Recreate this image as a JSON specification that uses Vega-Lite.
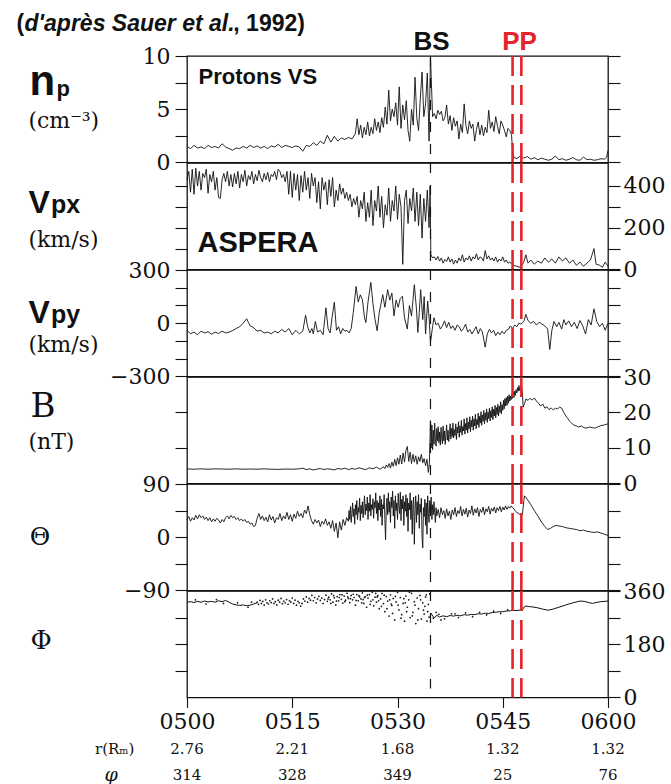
{
"$schema": "https://vega.github.io/schema/vega-lite/v6.json",
"background": "white",
"padding": {"left": 15, "top": 12, "right": 0, "bottom": 0},
"autosize": {"type": "pad"},
"spacing": 0,
"bounds": "flush",
"config": {
  "view": {"stroke": "#111", "strokeWidth": 1.3},
  "axis": {"domain": false, "grid": false, "tickColor": "#111", "tickWidth": 1.1, "tickSize": 12, "labelFont": "DejaVu Serif", "labelFontSize": 22, "labelColor": "#111", "labelPadding": 5},
  "font": "Liberation Sans"
},
"datasets": {
"np": [{"t":0,"v":1.5},{"t":0.5,"v":1.3},{"t":1,"v":1.6},{"t":1.5,"v":1.35},{"t":2,"v":1.45},{"t":2.5,"v":1.3},{"t":3,"v":1.6},{"t":3.5,"v":1.4},{"t":4,"v":1.5},{"t":4.5,"v":1.35},{"t":5,"v":1.75},{"t":5.5,"v":1.45},{"t":6,"v":1.3},{"t":6.5,"v":1.15},{"t":7,"v":1.35},{"t":7.5,"v":1.3},{"t":8,"v":1.5},{"t":8.5,"v":1.35},{"t":9,"v":1.6},{"t":9.5,"v":1.4},{"t":10,"v":1.55},{"t":10.5,"v":1.35},{"t":11,"v":1.5},{"t":11.5,"v":1.3},{"t":12,"v":1.55},{"t":12.5,"v":1.45},{"t":13,"v":1.7},{"t":13.5,"v":1.4},{"t":14,"v":1.6},{"t":14.5,"v":1.5},{"t":15,"v":1.4},{"t":15.5,"v":1.55},{"t":16,"v":1.45},{"t":16.5,"v":1.05},{"t":17,"v":1.6},{"t":17.5,"v":1.5},{"t":18,"v":1.85},{"t":18.5,"v":1.6},{"t":19,"v":2.0},{"t":19.5,"v":1.75},{"t":20,"v":2.55},{"t":20.5,"v":1.9},{"t":21,"v":2.45},{"t":21.5,"v":2.0},{"t":22,"v":2.3},{"t":22.5,"v":2.15},{"t":23,"v":2.35},{"t":23.5,"v":2.2},
{"t":24,"v":2.7},{"t":24.25,"v":4.1},{"t":24.5,"v":2.6},{"t":24.75,"v":3.5},{"t":25,"v":2.3},{"t":25.25,"v":3.3},{"t":25.5,"v":2.6},{"t":25.75,"v":3.8},{"t":26,"v":2.5},{"t":26.25,"v":3.3},{"t":26.5,"v":2.7},{"t":26.75,"v":4.1},{"t":27,"v":3.0},{"t":27.25,"v":3.8},{"t":27.5,"v":2.8},{"t":27.75,"v":4.2},{"t":28,"v":3.3},{"t":28.25,"v":5.2},{"t":28.5,"v":3.6},{"t":28.75,"v":6.8},{"t":29,"v":3.9},{"t":29.25,"v":5.0},{"t":29.5,"v":4.3},{"t":29.75,"v":5.6},{"t":30,"v":3.5},{"t":30.25,"v":7.1},{"t":30.5,"v":3.2},{"t":30.75,"v":5.4},{"t":31,"v":4.0},{"t":31.25,"v":5.8},{"t":31.5,"v":3.0},{"t":31.75,"v":2.0},{"t":32,"v":5.0},{"t":32.25,"v":3.5},{"t":32.5,"v":8.0},{"t":32.75,"v":4.2},{"t":33,"v":3.0},{"t":33.25,"v":6.0},{"t":33.5,"v":8.5},{"t":33.75,"v":4.3},{"t":34,"v":5.5},{"t":34.25,"v":8.4},{"t":34.5,"v":2.0},{"t":34.7,"v":10.0},{"t":35,"v":4.3},{"t":35.25,"v":4.6},{"t":35.5,"v":4.1},{"t":35.75,"v":4.9},{"t":36,"v":4.5},{"t":36.25,"v":4.8},{"t":36.5,"v":3.9},{"t":36.75,"v":4.2},{"t":37,"v":5.4},{"t":37.25,"v":3.6},{"t":37.5,"v":4.4},{"t":37.75,"v":3.0},{"t":38,"v":4.2},{"t":38.25,"v":3.4},{"t":38.5,"v":3.9},{"t":38.75,"v":2.2},{"t":39,"v":3.6},{"t":39.25,"v":2.8},{"t":39.5,"v":5.5},{"t":39.75,"v":3.5},{"t":40,"v":2.7},{"t":40.25,"v":3.9},{"t":40.5,"v":3.2},{"t":40.75,"v":3.6},{"t":41,"v":2.0},{"t":41.25,"v":3.1},{"t":41.5,"v":3.8},{"t":41.75,"v":2.6},{"t":42,"v":3.5},{"t":42.25,"v":2.5},{"t":42.5,"v":3.3},{"t":42.75,"v":2.8},{"t":43,"v":4.9},{"t":43.25,"v":3.2},{"t":43.5,"v":3.8},{"t":43.75,"v":2.9},{"t":44,"v":4.3},{"t":44.25,"v":3.4},{"t":44.5,"v":2.7},{"t":44.75,"v":3.9},{"t":45,"v":3.5},{"t":45.25,"v":3.0},{"t":45.5,"v":2.4},{"t":45.75,"v":3.2},{"t":46,"v":3.0},{"t":46.25,"v":2.6},{"t":46.4,"v":1.1},{"t":46.6,"v":0.47},{"t":47,"v":0.35},{"t":47.5,"v":0.6},{"t":48,"v":0.4},{"t":48.5,"v":0.55},{"t":49,"v":0.3},{"t":49.5,"v":0.45},{"t":50,"v":0.25},{"t":50.5,"v":0.4},{"t":51,"v":0.3},{"t":51.5,"v":0.2},{"t":52,"v":0.3},{"t":52.5,"v":0.6},{"t":53,"v":0.25},{"t":53.5,"v":0.35},{"t":54,"v":0.2},{"t":54.5,"v":0.3},{"t":55,"v":0.45},{"t":55.5,"v":0.25},{"t":56,"v":0.2},{"t":56.5,"v":0.5},{"t":57,"v":0.25},{"t":57.5,"v":0.3},{"t":58,"v":0.2},{"t":58.5,"v":0.25},{"t":59,"v":0.35},{"t":59.5,"v":0.3},{"t":59.8,"v":0.5},{"t":60,"v":1.1}],
"vpx": [{"t":0,"v":430},{"t":0.25,"v":470},{"t":0.5,"v":370},{"t":0.75,"v":480},{"t":1,"v":360},{"t":1.25,"v":485},{"t":1.5,"v":400},{"t":1.75,"v":470},{"t":2,"v":380},{"t":2.25,"v":460},{"t":2.5,"v":440},{"t":2.75,"v":480},{"t":3,"v":365},{"t":3.25,"v":455},{"t":3.5,"v":420},{"t":3.75,"v":470},{"t":4,"v":380},{"t":4.25,"v":440},{"t":4.5,"v":345},{"t":4.75,"v":340},{"t":5,"v":430},{"t":5.25,"v":460},{"t":5.5,"v":420},{"t":5.75,"v":470},{"t":6,"v":400},{"t":6.25,"v":455},{"t":6.5,"v":395},{"t":6.75,"v":460},{"t":7,"v":410},{"t":7.25,"v":470},{"t":7.5,"v":390},{"t":7.75,"v":455},{"t":8,"v":420},{"t":8.25,"v":475},{"t":8.5,"v":400},{"t":8.75,"v":450},{"t":9,"v":430},{"t":9.25,"v":470},{"t":9.5,"v":410},{"t":9.75,"v":455},{"t":10,"v":425},{"t":10.25,"v":475},{"t":10.5,"v":440},{"t":10.75,"v":420},{"t":11,"v":460},{"t":11.25,"v":430},{"t":11.5,"v":465},{"t":11.75,"v":420},{"t":12,"v":455},{"t":12.25,"v":445},{"t":12.5,"v":470},{"t":12.75,"v":430},{"t":13,"v":480},{"t":13.25,"v":470},{"t":13.5,"v":440},{"t":13.75,"v":455},{"t":14,"v":420},{"t":14.25,"v":470},{"t":14.5,"v":360},{"t":14.75,"v":470},{"t":15,"v":345},{"t":15.25,"v":460},{"t":15.5,"v":380},{"t":15.75,"v":455},{"t":16,"v":330},{"t":16.25,"v":450},{"t":16.5,"v":370},{"t":16.75,"v":470},{"t":17,"v":380},{"t":17.25,"v":440},{"t":17.5,"v":340},{"t":17.75,"v":460},{"t":18,"v":400},{"t":18.25,"v":440},{"t":18.5,"v":320},{"t":18.75,"v":420},{"t":19,"v":290},{"t":19.25,"v":440},{"t":19.5,"v":380},{"t":19.75,"v":420},{"t":20,"v":310},{"t":20.25,"v":430},{"t":20.5,"v":350},{"t":20.75,"v":440},{"t":21,"v":300},{"t":21.25,"v":380},{"t":21.5,"v":330},{"t":21.75,"v":410},{"t":22,"v":360},{"t":22.25,"v":390},{"t":22.5,"v":340},{"t":22.75,"v":370},{"t":23,"v":330},{"t":23.25,"v":360},{"t":23.5,"v":300},{"t":23.75,"v":340},{"t":24,"v":310},{"t":24.25,"v":350},{"t":24.5,"v":250},{"t":24.75,"v":330},{"t":25,"v":290},{"t":25.25,"v":370},{"t":25.5,"v":230},{"t":25.75,"v":320},{"t":26,"v":250},{"t":26.25,"v":380},{"t":26.5,"v":210},{"t":26.75,"v":330},{"t":27,"v":280},{"t":27.25,"v":400},{"t":27.5,"v":250},{"t":27.75,"v":350},{"t":28,"v":200},{"t":28.25,"v":310},{"t":28.5,"v":260},{"t":28.75,"v":390},{"t":29,"v":230},{"t":29.25,"v":330},{"t":29.5,"v":280},{"t":29.75,"v":400},{"t":30,"v":240},{"t":30.25,"v":360},{"t":30.5,"v":300},{"t":30.75,"v":24},{"t":31,"v":330},{"t":31.25,"v":380},{"t":31.5,"v":220},{"t":31.75,"v":340},{"t":32,"v":280},{"t":32.25,"v":390},{"t":32.5,"v":230},{"t":32.75,"v":370},{"t":33,"v":210},{"t":33.25,"v":360},{"t":33.5,"v":150},{"t":33.75,"v":340},{"t":34,"v":230},{"t":34.25,"v":380},{"t":34.5,"v":200},{"t":34.65,"v":400},{"t":34.75,"v":70},{"t":35,"v":55},{"t":35.25,"v":60},{"t":35.5,"v":45},{"t":35.75,"v":62},{"t":36,"v":40},{"t":36.25,"v":55},{"t":36.5,"v":30},{"t":36.75,"v":48},{"t":37,"v":38},{"t":37.25,"v":60},{"t":37.5,"v":35},{"t":37.75,"v":50},{"t":38,"v":25},{"t":38.25,"v":45},{"t":38.5,"v":30},{"t":38.75,"v":55},{"t":39,"v":40},{"t":39.25,"v":70},{"t":39.5,"v":35},{"t":39.75,"v":55},{"t":40,"v":45},{"t":40.25,"v":65},{"t":40.5,"v":40},{"t":40.75,"v":60},{"t":41,"v":50},{"t":41.25,"v":75},{"t":41.5,"v":45},{"t":41.75,"v":60},{"t":42,"v":55},{"t":42.25,"v":40},{"t":42.5,"v":90},{"t":42.75,"v":50},{"t":43,"v":65},{"t":43.25,"v":45},{"t":43.5,"v":55},{"t":43.75,"v":40},{"t":44,"v":60},{"t":44.25,"v":35},{"t":44.5,"v":50},{"t":44.75,"v":40},{"t":45,"v":60},{"t":45.25,"v":35},{"t":45.5,"v":45},{"t":45.75,"v":30},{"t":46,"v":35},{"t":46.5,"v":20},{"t":47,"v":15},{"t":47.5,"v":10},{"t":48,"v":35},{"t":48.3,"v":70},{"t":48.6,"v":30},{"t":49,"v":45},{"t":49.5,"v":25},{"t":50,"v":40},{"t":50.5,"v":30},{"t":51,"v":55},{"t":51.5,"v":35},{"t":52,"v":50},{"t":52.5,"v":30},{"t":53,"v":60},{"t":53.5,"v":40},{"t":54,"v":55},{"t":54.5,"v":30},{"t":55,"v":45},{"t":55.5,"v":20},{"t":56,"v":35},{"t":56.5,"v":15},{"t":57,"v":30},{"t":57.5,"v":45},{"t":58,"v":100},{"t":58.3,"v":25},{"t":58.8,"v":20},{"t":59.2,"v":10},{"t":59.6,"v":35},{"t":60,"v":15}],
"vpy": [{"t":0,"v":-40},{"t":0.5,"v":-60},{"t":1,"v":-50},{"t":1.5,"v":-65},{"t":2,"v":-45},{"t":2.5,"v":-55},{"t":3,"v":-48},{"t":3.5,"v":-62},{"t":4,"v":-50},{"t":4.5,"v":-58},{"t":5,"v":-45},{"t":5.5,"v":-55},{"t":6,"v":-50},{"t":6.5,"v":-42},{"t":7,"v":-30},{"t":7.5,"v":-20},{"t":8,"v":0},{"t":8.5,"v":25},{"t":8.75,"v":5},{"t":9,"v":-15},{"t":9.5,"v":-25},{"t":10,"v":-45},{"t":10.5,"v":-40},{"t":11,"v":-55},{"t":11.5,"v":-50},{"t":12,"v":-60},{"t":12.5,"v":-45},{"t":13,"v":-55},{"t":13.5,"v":-35},{"t":14,"v":-50},{"t":14.5,"v":-30},{"t":15,"v":-65},{"t":15.5,"v":-40},{"t":16,"v":-60},{"t":16.5,"v":-45},{"t":16.9,"v":45},{"t":17.2,"v":-20},{"t":17.5,"v":-55},{"t":17.8,"v":-30},{"t":18,"v":-60},{"t":18.3,"v":10},{"t":18.6,"v":-50},{"t":19,"v":-40},{"t":19.4,"v":-65},{"t":19.8,"v":87},{"t":20.1,"v":-30},{"t":20.4,"v":-55},{"t":20.7,"v":40},{"t":21,"v":118},{"t":21.3,"v":-40},{"t":21.6,"v":-20},{"t":21.9,"v":-60},{"t":22.2,"v":-30},{"t":22.5,"v":-45},{"t":22.8,"v":-40},{"t":23.1,"v":-55},{"t":23.4,"v":-30},{"t":23.7,"v":60},{"t":24.1,"v":207},{"t":24.4,"v":120},{"t":24.7,"v":160},{"t":25,"v":133},{"t":25.3,"v":30},{"t":25.5,"v":4},{"t":25.8,"v":120},{"t":26.2,"v":230},{"t":26.5,"v":110},{"t":26.8,"v":20},{"t":27.1,"v":-43},{"t":27.4,"v":60},{"t":27.6,"v":100},{"t":27.9,"v":161},{"t":28.2,"v":90},{"t":28.6,"v":189},{"t":28.9,"v":130},{"t":29.2,"v":170},{"t":29.5,"v":41},{"t":29.8,"v":130},{"t":30.1,"v":90},{"t":30.4,"v":140},{"t":30.7,"v":152},{"t":31,"v":30},{"t":31.4,"v":-33},{"t":31.7,"v":100},{"t":32,"v":40},{"t":32.4,"v":217},{"t":32.7,"v":80},{"t":32.9,"v":-52},{"t":33.1,"v":60},{"t":33.3,"v":189},{"t":33.6,"v":20},{"t":33.8,"v":150},{"t":34,"v":-61},{"t":34.3,"v":124},{"t":34.5,"v":30},{"t":34.7,"v":-107},{"t":35,"v":-20},{"t":35.2,"v":31},{"t":35.5,"v":-10},{"t":35.8,"v":0},{"t":36.1,"v":-33},{"t":36.4,"v":-15},{"t":36.7,"v":13},{"t":37,"v":-25},{"t":37.3,"v":5},{"t":37.6,"v":-30},{"t":37.9,"v":-15},{"t":38.2,"v":-40},{"t":38.5,"v":-10},{"t":38.8,"v":-20},{"t":39.1,"v":-45},{"t":39.4,"v":-30},{"t":39.7,"v":-5},{"t":40,"v":-50},{"t":40.3,"v":-35},{"t":40.6,"v":-61},{"t":40.9,"v":-40},{"t":41.2,"v":-20},{"t":41.5,"v":-60},{"t":41.8,"v":-30},{"t":42.1,"v":-50},{"t":42.5,"v":-135},{"t":42.8,"v":-60},{"t":43.1,"v":-35},{"t":43.4,"v":-55},{"t":43.7,"v":-40},{"t":44,"v":-70},{"t":44.3,"v":-50},{"t":44.6,"v":-65},{"t":44.9,"v":-45},{"t":45.2,"v":-60},{"t":45.5,"v":-40},{"t":45.8,"v":-35},{"t":46.1,"v":-15},{"t":46.4,"v":-30},{"t":46.7,"v":-10},{"t":47,"v":-20},{"t":47.3,"v":0},{"t":47.6,"v":-5},{"t":48,"v":10},{"t":48.3,"v":50},{"t":48.6,"v":15},{"t":49,"v":0},{"t":49.4,"v":10},{"t":49.8,"v":-10},{"t":50.2,"v":5},{"t":50.6,"v":-5},{"t":51,"v":-15},{"t":51.4,"v":-33},{"t":51.7,"v":-148},{"t":52,"v":-40},{"t":52.3,"v":10},{"t":52.7,"v":-20},{"t":53,"v":5},{"t":53.4,"v":-33},{"t":53.7,"v":20},{"t":54,"v":-10},{"t":54.4,"v":13},{"t":54.8,"v":-20},{"t":55.2,"v":5},{"t":55.6,"v":-30},{"t":56,"v":15},{"t":56.4,"v":-15},{"t":56.8,"v":-61},{"t":57.2,"v":20},{"t":57.6,"v":-10},{"t":58,"v":81},{"t":58.4,"v":10},{"t":58.8,"v":-20},{"t":59.2,"v":0},{"t":59.6,"v":-40},{"t":60,"v":0}],
"B": [{"t":0,"v":4.1},{"t":1,"v":4.0},{"t":2,"v":4.1},{"t":3,"v":4.0},{"t":4,"v":4.1},{"t":5,"v":4.05},{"t":6,"v":4.0},{"t":7,"v":4.1},{"t":8,"v":4.0},{"t":9,"v":4.05},{"t":10,"v":4.0},{"t":11,"v":4.1},{"t":12,"v":4.0},{"t":13,"v":3.95},{"t":14,"v":4.05},{"t":15,"v":4.0},{"t":16,"v":4.1},{"t":16.5,"v":4.3},{"t":17,"v":3.9},{"t":17.5,"v":4.1},{"t":18,"v":3.8},{"t":18.5,"v":4.0},{"t":19,"v":4.2},{"t":19.5,"v":3.9},{"t":20,"v":4.1},{"t":20.5,"v":4.0},{"t":21,"v":3.8},{"t":21.5,"v":4.2},{"t":22,"v":4.0},{"t":22.5,"v":4.3},{"t":23,"v":3.9},{"t":23.5,"v":4.2},{"t":24,"v":4.0},{"t":24.5,"v":4.4},{"t":25,"v":4.1},{"t":25.5,"v":3.9},{"t":26,"v":4.4},{"t":26.5,"v":4.1},{"t":27,"v":4.6},{"t":27.5,"v":4.0},{"t":28,"v":4.7},{"t":28.2,"v":4.2},{"t":28.4,"v":5.2},{"t":28.6,"v":4.5},{"t":28.8,"v":5.6},{"t":29,"v":4.3},{"t":29.2,"v":6.0},{"t":29.4,"v":4.8},{"t":29.6,"v":6.8},{"t":29.8,"v":5.0},{"t":30,"v":7.2},{"t":30.2,"v":5.4},{"t":30.4,"v":8.0},{"t":30.6,"v":5.5},{"t":30.8,"v":8.6},{"t":31,"v":6.0},{"t":31.2,"v":9.3},{"t":31.4,"v":10.4},{"t":31.6,"v":6.2},{"t":31.8,"v":8.8},{"t":32,"v":5.6},{"t":32.2,"v":8.2},{"t":32.4,"v":6.0},{"t":32.6,"v":7.8},{"t":32.8,"v":5.4},{"t":33,"v":7.5},{"t":33.2,"v":6.2},{"t":33.4,"v":8.2},{"t":33.6,"v":5.8},{"t":33.8,"v":7.0},{"t":34,"v":5.0},{"t":34.2,"v":6.8},{"t":34.4,"v":3.1},{"t":34.55,"v":6.0},{"t":34.7,"v":17.7},{"t":34.8,"v":10.0},{"t":34.9,"v":16.5},{"t":35,"v":9.5},{"t":35.1,"v":15.0},{"t":35.2,"v":11.0},{"t":35.3,"v":17.0},{"t":35.4,"v":12.5},{"t":35.5,"v":10.5},{"t":35.6,"v":15.5},{"t":35.7,"v":12.0},{"t":35.8,"v":16.0},{"t":35.9,"v":11.5},{"t":36,"v":14.5},{"t":36.1,"v":10.8},{"t":36.2,"v":15.8},{"t":36.3,"v":12.8},{"t":36.4,"v":11.2},{"t":36.5,"v":16.2},{"t":36.6,"v":12.0},{"t":36.7,"v":14.8},{"t":36.8,"v":11.0},{"t":36.9,"v":13.9},{"t":37,"v":16.5},{"t":37.1,"v":12.2},{"t":37.2,"v":15.0},{"t":37.3,"v":11.8},{"t":37.4,"v":14.0},{"t":37.5,"v":16.8},{"t":37.6,"v":12.5},{"t":37.7,"v":15.5},{"t":37.8,"v":13.2},{"t":37.9,"v":17.0},{"t":38,"v":12.8},{"t":38.1,"v":15.2},{"t":38.2,"v":13.5},{"t":38.3,"v":16.8},{"t":38.4,"v":12.4},{"t":38.5,"v":15.9},{"t":38.6,"v":14.2},{"t":38.7,"v":17.4},{"t":38.8,"v":13.0},{"t":38.9,"v":16.2},{"t":39,"v":14.4},{"t":39.1,"v":17.8},{"t":39.2,"v":13.6},{"t":39.3,"v":16.0},{"t":39.4,"v":14.8},{"t":39.5,"v":18.2},{"t":39.6,"v":13.9},{"t":39.7,"v":16.9},{"t":39.8,"v":15.0},{"t":39.9,"v":18.5},{"t":40,"v":14.2},{"t":40.1,"v":17.3},{"t":40.2,"v":15.4},{"t":40.3,"v":18.8},{"t":40.4,"v":14.6},{"t":40.5,"v":17.8},{"t":40.6,"v":15.9},{"t":40.7,"v":19.0},{"t":40.8,"v":15.0},{"t":40.9,"v":18.2},{"t":41,"v":16.2},{"t":41.1,"v":19.5},{"t":41.2,"v":15.4},{"t":41.3,"v":18.0},{"t":41.4,"v":16.6},{"t":41.5,"v":19.8},{"t":41.6,"v":15.8},{"t":41.7,"v":18.9},{"t":41.8,"v":17.0},{"t":41.9,"v":20.2},{"t":42,"v":16.4},{"t":42.1,"v":19.3},{"t":42.2,"v":17.5},{"t":42.3,"v":20.6},{"t":42.4,"v":16.8},{"t":42.5,"v":19.9},{"t":42.6,"v":17.8},{"t":42.7,"v":21.0},{"t":42.8,"v":17.2},{"t":42.9,"v":20.1},{"t":43,"v":18.3},{"t":43.1,"v":21.2},{"t":43.2,"v":17.6},{"t":43.3,"v":20.5},{"t":43.4,"v":18.6},{"t":43.5,"v":21.6},{"t":43.6,"v":18.0},{"t":43.7,"v":20.9},{"t":43.8,"v":19.0},{"t":43.9,"v":22.0},{"t":44,"v":18.5},{"t":44.1,"v":21.4},{"t":44.2,"v":19.4},{"t":44.3,"v":22.3},{"t":44.4,"v":19.0},{"t":44.5,"v":21.8},{"t":44.6,"v":20.0},{"t":44.7,"v":23.0},{"t":44.8,"v":19.6},{"t":44.9,"v":22.2},{"t":45,"v":20.6},{"t":45.1,"v":23.4},{"t":45.2,"v":21.0},{"t":45.3,"v":23.9},{"t":45.4,"v":21.8},{"t":45.5,"v":24.2},{"t":45.6,"v":22.0},{"t":45.7,"v":24.6},{"t":45.8,"v":22.6},{"t":45.9,"v":25.0},{"t":46,"v":23.2},{"t":46.1,"v":24.6},{"t":46.2,"v":23.6},{"t":46.3,"v":25.3},{"t":46.4,"v":24.0},{"t":46.5,"v":25.6},{"t":46.6,"v":24.2},{"t":46.7,"v":26.0},{"t":46.8,"v":24.8},{"t":46.9,"v":26.4},{"t":47,"v":25.5},{"t":47.1,"v":27.0},{"t":47.2,"v":26.0},{"t":47.3,"v":27.6},{"t":47.4,"v":26.2},{"t":47.5,"v":27.2},{"t":47.6,"v":26.6},{"t":47.7,"v":27.0},{"t":47.8,"v":25.5},{"t":47.9,"v":21.5},{"t":48.1,"v":22.5},{"t":48.3,"v":23.8},{"t":48.6,"v":23.4},{"t":48.9,"v":24.0},{"t":49.2,"v":23.5},{"t":49.5,"v":24.1},{"t":49.8,"v":23.2},{"t":50.1,"v":22.6},{"t":50.4,"v":21.8},{"t":50.7,"v":22.4},{"t":51,"v":21.2},{"t":51.3,"v":21.6},{"t":51.6,"v":20.8},{"t":51.9,"v":21.3},{"t":52.2,"v":20.7},{"t":52.5,"v":21.2},{"t":52.8,"v":21.0},{"t":53.1,"v":21.5},{"t":53.4,"v":21.2},{"t":53.7,"v":20.0},{"t":54,"v":19.0},{"t":54.3,"v":18.2},{"t":54.6,"v":17.4},{"t":54.9,"v":16.8},{"t":55.2,"v":16.4},{"t":55.5,"v":16.2},{"t":55.8,"v":15.9},{"t":56.2,"v":16.2},{"t":56.6,"v":15.7},{"t":57,"v":15.6},{"t":57.4,"v":15.9},{"t":57.8,"v":15.7},{"t":58.2,"v":15.6},{"t":58.6,"v":16.0},{"t":59,"v":16.3},{"t":59.5,"v":16.5},{"t":60,"v":16.8}],
"th": [{"t":0,"v":30},{"t":0.25,"v":35},{"t":0.5,"v":27},{"t":0.75,"v":33},{"t":1,"v":29},{"t":1.25,"v":37},{"t":1.5,"v":31},{"t":1.75,"v":38},{"t":2,"v":33},{"t":2.25,"v":36},{"t":2.5,"v":30},{"t":2.75,"v":34},{"t":3,"v":28},{"t":3.25,"v":33},{"t":3.5,"v":26},{"t":3.75,"v":31},{"t":4,"v":27},{"t":4.25,"v":32},{"t":4.5,"v":29},{"t":4.75,"v":24},{"t":5,"v":30},{"t":5.25,"v":26},{"t":5.5,"v":33},{"t":5.75,"v":36},{"t":6,"v":31},{"t":6.25,"v":37},{"t":6.5,"v":33},{"t":6.75,"v":35},{"t":7,"v":30},{"t":7.25,"v":33},{"t":7.5,"v":28},{"t":7.75,"v":31},{"t":8,"v":27},{"t":8.25,"v":30},{"t":8.5,"v":25},{"t":8.75,"v":27},{"t":9,"v":22},{"t":9.25,"v":24},{"t":9.5,"v":18},{"t":9.75,"v":20},{"t":10,"v":32},{"t":10.25,"v":40},{"t":10.5,"v":30},{"t":10.75,"v":36},{"t":11,"v":28},{"t":11.25,"v":34},{"t":11.5,"v":26},{"t":11.75,"v":38},{"t":12,"v":29},{"t":12.25,"v":35},{"t":12.5,"v":24},{"t":12.75,"v":33},{"t":13,"v":30},{"t":13.25,"v":40},{"t":13.5,"v":28},{"t":13.75,"v":36},{"t":14,"v":31},{"t":14.25,"v":42},{"t":14.5,"v":30},{"t":14.75,"v":38},{"t":15,"v":27},{"t":15.25,"v":39},{"t":15.5,"v":32},{"t":15.75,"v":44},{"t":16,"v":35},{"t":16.25,"v":40},{"t":16.5,"v":33},{"t":16.75,"v":46},{"t":17,"v":40},{"t":17.25,"v":53},{"t":17.5,"v":38},{"t":17.75,"v":28},{"t":18,"v":22},{"t":18.25,"v":30},{"t":18.5,"v":24},{"t":18.75,"v":29},{"t":19,"v":18},{"t":19.25,"v":27},{"t":19.5,"v":22},{"t":19.75,"v":31},{"t":20,"v":20},{"t":20.25,"v":26},{"t":20.5,"v":15},{"t":20.75,"v":28},{"t":21,"v":10},{"t":21.25,"v":24},{"t":21.5,"v":-1},{"t":21.75,"v":26},{"t":22,"v":12},{"t":22.25,"v":30},{"t":22.5,"v":20},{"t":22.75,"v":33},{"t":23,"v":27},{"t":23.1,"v":45},{"t":23.2,"v":30},{"t":23.3,"v":52},{"t":23.4,"v":25},{"t":23.5,"v":40},{"t":23.6,"v":58},{"t":23.7,"v":35},{"t":23.8,"v":48},{"t":23.9,"v":22},{"t":24,"v":55},{"t":24.1,"v":38},{"t":24.2,"v":62},{"t":24.3,"v":30},{"t":24.4,"v":50},{"t":24.5,"v":42},{"t":24.6,"v":66},{"t":24.7,"v":28},{"t":24.8,"v":54},{"t":24.9,"v":40},{"t":25,"v":60},{"t":25.1,"v":33},{"t":25.2,"v":52},{"t":25.3,"v":70},{"t":25.4,"v":38},{"t":25.5,"v":56},{"t":25.6,"v":45},{"t":25.7,"v":68},{"t":25.8,"v":30},{"t":25.9,"v":58},{"t":26,"v":44},{"t":26.1,"v":72},{"t":26.2,"v":36},{"t":26.3,"v":55},{"t":26.4,"v":47},{"t":26.5,"v":65},{"t":26.6,"v":32},{"t":26.7,"v":60},{"t":26.8,"v":50},{"t":26.9,"v":75},{"t":27,"v":40},{"t":27.1,"v":62},{"t":27.2,"v":28},{"t":27.3,"v":58},{"t":27.4,"v":46},{"t":27.5,"v":70},{"t":27.6,"v":35},{"t":27.7,"v":64},{"t":27.8,"v":20},{"t":27.9,"v":55},{"t":28,"v":48},{"t":28.1,"v":72},{"t":28.2,"v":30},{"t":28.3,"v":-4},{"t":28.4,"v":50},{"t":28.5,"v":66},{"t":28.6,"v":38},{"t":28.7,"v":75},{"t":28.8,"v":42},{"t":28.9,"v":60},{"t":29,"v":25},{"t":29.1,"v":68},{"t":29.2,"v":50},{"t":29.3,"v":78},{"t":29.4,"v":36},{"t":29.5,"v":62},{"t":29.6,"v":15},{"t":29.7,"v":70},{"t":29.8,"v":45},{"t":29.9,"v":58},{"t":30,"v":30},{"t":30.1,"v":74},{"t":30.2,"v":52},{"t":30.3,"v":40},{"t":30.4,"v":76},{"t":30.5,"v":28},{"t":30.6,"v":64},{"t":30.7,"v":48},{"t":30.8,"v":70},{"t":30.9,"v":20},{"t":31,"v":60},{"t":31.1,"v":44},{"t":31.2,"v":72},{"t":31.3,"v":35},{"t":31.4,"v":66},{"t":31.5,"v":10},{"t":31.6,"v":58},{"t":31.7,"v":46},{"t":31.8,"v":75},{"t":31.9,"v":30},{"t":32,"v":62},{"t":32.1,"v":5},{"t":32.2,"v":55},{"t":32.3,"v":68},{"t":32.4,"v":-12},{"t":32.5,"v":48},{"t":32.6,"v":70},{"t":32.7,"v":25},{"t":32.8,"v":60},{"t":32.9,"v":38},{"t":33,"v":72},{"t":33.1,"v":15},{"t":33.2,"v":56},{"t":33.3,"v":42},{"t":33.4,"v":66},{"t":33.5,"v":0},{"t":33.6,"v":-18},{"t":33.7,"v":50},{"t":33.8,"v":35},{"t":33.9,"v":64},{"t":34,"v":20},{"t":34.1,"v":58},{"t":34.2,"v":5},{"t":34.3,"v":70},{"t":34.4,"v":40},{"t":34.5,"v":25},{"t":34.6,"v":62},{"t":34.7,"v":45},{"t":34.8,"v":68},{"t":34.9,"v":30},{"t":35,"v":55},{"t":35.1,"v":38},{"t":35.2,"v":60},{"t":35.3,"v":42},{"t":35.4,"v":25},{"t":35.5,"v":50},{"t":35.6,"v":36},{"t":35.8,"v":47},{"t":36,"v":33},{"t":36.2,"v":50},{"t":36.4,"v":38},{"t":36.6,"v":45},{"t":36.8,"v":32},{"t":37,"v":48},{"t":37.2,"v":36},{"t":37.4,"v":44},{"t":37.6,"v":30},{"t":37.8,"v":46},{"t":38,"v":38},{"t":38.2,"v":50},{"t":38.4,"v":35},{"t":38.6,"v":45},{"t":38.8,"v":40},{"t":39,"v":52},{"t":39.2,"v":36},{"t":39.4,"v":47},{"t":39.6,"v":39},{"t":39.8,"v":49},{"t":40,"v":34},{"t":40.2,"v":46},{"t":40.4,"v":40},{"t":40.6,"v":53},{"t":40.8,"v":37},{"t":41,"v":48},{"t":41.2,"v":41},{"t":41.4,"v":50},{"t":41.6,"v":35},{"t":41.8,"v":47},{"t":42,"v":42},{"t":42.2,"v":51},{"t":42.4,"v":38},{"t":42.6,"v":48},{"t":42.8,"v":43},{"t":43,"v":52},{"t":43.2,"v":39},{"t":43.4,"v":49},{"t":43.6,"v":44},{"t":43.8,"v":51},{"t":44,"v":41},{"t":44.2,"v":50},{"t":44.4,"v":45},{"t":44.6,"v":52},{"t":44.8,"v":43},{"t":45,"v":51},{"t":45.2,"v":46},{"t":45.4,"v":53},{"t":45.6,"v":47},{"t":45.8,"v":52},{"t":46,"v":49},{"t":46.2,"v":53},{"t":46.4,"v":50},{"t":46.6,"v":48},{"t":46.8,"v":44},{"t":47,"v":42},{"t":47.3,"v":40},{"t":47.6,"v":36},{"t":47.8,"v":38},{"t":48,"v":62},{"t":48.1,"v":70},{"t":48.5,"v":64},{"t":49,"v":55},{"t":49.5,"v":45},{"t":50,"v":36},{"t":50.5,"v":26},{"t":51,"v":18},{"t":51.4,"v":13},{"t":51.8,"v":15},{"t":52.2,"v":18},{"t":52.6,"v":20},{"t":53,"v":19},{"t":53.5,"v":18},{"t":54,"v":16},{"t":54.5,"v":15},{"t":55,"v":14},{"t":55.5,"v":13},{"t":56,"v":11},{"t":56.5,"v":12},{"t":57,"v":10},{"t":57.5,"v":9},{"t":58,"v":8},{"t":58.5,"v":9},{"t":59,"v":7},{"t":59.5,"v":5},{"t":60,"v":3}],
"phl": [{"seg":"a","t":0,"v":322},{"seg":"a","t":0.5,"v":324},{"seg":"a","t":1,"v":321},{"seg":"a","t":1.5,"v":325},{"seg":"a","t":2,"v":322},{"seg":"a","t":2.5,"v":326},{"seg":"a","t":3,"v":323},{"seg":"a","t":3.5,"v":325},{"seg":"a","t":4,"v":322},{"seg":"a","t":4.5,"v":327},{"seg":"a","t":5,"v":324},{"seg":"a","t":5.5,"v":328},{"seg":"a","t":6,"v":322},{"seg":"a","t":6.5,"v":316},{"seg":"a","t":7,"v":313},{"seg":"a","t":7.5,"v":311},{"seg":"a","t":8,"v":313},{"seg":"a","t":8.5,"v":310},{"seg":"a","t":9,"v":312},{"seg":"a","t":9.5,"v":316},{"seg":"a","t":10,"v":320},
{"seg":"b","t":34.8,"v":285},{"seg":"b","t":35,"v":275},{"seg":"b","t":35.3,"v":270},{"seg":"b","t":35.6,"v":278},{"seg":"b","t":36,"v":272},{"seg":"b","t":36.5,"v":276},{"seg":"b","t":37,"v":273},{"seg":"b","t":37.5,"v":277},{"seg":"b","t":38,"v":275},{"seg":"b","t":38.5,"v":278},{"seg":"b","t":39,"v":276},{"seg":"b","t":39.5,"v":280},{"seg":"b","t":40,"v":278},{"seg":"b","t":40.5,"v":281},{"seg":"b","t":41,"v":280},{"seg":"b","t":41.5,"v":283},{"seg":"b","t":42,"v":282},{"seg":"b","t":42.5,"v":285},{"seg":"b","t":43,"v":284},{"seg":"b","t":43.5,"v":287},{"seg":"b","t":44,"v":288},{"seg":"b","t":44.5,"v":290},{"seg":"b","t":45,"v":290},{"seg":"b","t":45.5,"v":292},{"seg":"b","t":46,"v":293},{"seg":"b","t":46.5,"v":294},{"seg":"b","t":47,"v":294},{"seg":"b","t":47.5,"v":295},{"seg":"b","t":47.8,"v":295},{"seg":"b","t":48,"v":305},{"seg":"b","t":48.3,"v":309},{"seg":"b","t":48.8,"v":307},{"seg":"b","t":49.3,"v":306},{"seg":"b","t":50,"v":303},{"seg":"b","t":50.8,"v":298},{"seg":"b","t":51.5,"v":295},{"seg":"b","t":52.2,"v":299},{"seg":"b","t":53,"v":305},{"seg":"b","t":54,"v":313},{"seg":"b","t":55,"v":320},{"seg":"b","t":56,"v":326},{"seg":"b","t":56.6,"v":325},{"seg":"b","t":57.2,"v":321},{"seg":"b","t":57.8,"v":318},{"seg":"b","t":58.3,"v":321},{"seg":"b","t":59,"v":324},{"seg":"b","t":60,"v":326}],
"php": [{"t":1.2,"v":330},{"t":2.7,"v":316},{"t":4.2,"v":331},{"t":5.2,"v":318},{"t":7.2,"v":320},{"t":8.7,"v":305},{"t":9.2,"v":322},{"t":10,"v":322},{"t":10.2,"v":315},{"t":10.4,"v":328},{"t":10.6,"v":318},{"t":10.8,"v":325},{"t":11,"v":312},{"t":11.2,"v":330},{"t":11.4,"v":320},{"t":11.6,"v":316},{"t":11.8,"v":327},{"t":12,"v":321},{"t":12.2,"v":333},{"t":12.4,"v":318},{"t":12.6,"v":324},{"t":12.8,"v":313},{"t":13,"v":329},{"t":13.2,"v":322},{"t":13.4,"v":335},{"t":13.6,"v":317},{"t":13.8,"v":326},{"t":14,"v":320},{"t":14.2,"v":331},{"t":14.4,"v":315},{"t":14.6,"v":327},{"t":14.8,"v":323},{"t":15,"v":336},{"t":15.2,"v":318},{"t":15.4,"v":329},{"t":15.6,"v":312},{"t":15.8,"v":325},{"t":16,"v":320},{"t":16.2,"v":309},{"t":16.4,"v":318},{"t":16.6,"v":333},{"t":16.8,"v":326},{"t":17,"v":340},{"t":17.2,"v":322},{"t":17.4,"v":335},{"t":17.6,"v":329},{"t":17.8,"v":345},{"t":18,"v":327},{"t":18.2,"v":338},{"t":18.4,"v":320},{"t":18.6,"v":333},{"t":18.8,"v":342},{"t":19,"v":328},{"t":19.2,"v":336},{"t":19.4,"v":318},{"t":19.6,"v":331},{"t":19.8,"v":346},{"t":20,"v":325},{"t":20.2,"v":339},{"t":20.4,"v":330},{"t":20.6,"v":350},{"t":20.8,"v":322},{"t":21,"v":337},{"t":21.2,"v":313},{"t":21.4,"v":341},{"t":21.6,"v":327},{"t":21.8,"v":348},{"t":22,"v":332},{"t":22.2,"v":319},{"t":22.4,"v":343},{"t":22.6,"v":329},{"t":22.8,"v":352},{"t":23,"v":335},{"t":23.2,"v":321},{"t":23.4,"v":345},{"t":23.6,"v":330},{"t":23.8,"v":338},{"t":24,"v":312},{"t":24.2,"v":348},{"t":24.4,"v":327},{"t":24.6,"v":340},{"t":24.8,"v":333},{"t":25,"v":354},{"t":25.2,"v":318},{"t":25.4,"v":341},{"t":25.6,"v":305},{"t":25.8,"v":336},{"t":26,"v":348},{"t":26.2,"v":325},{"t":26.4,"v":356},{"t":26.6,"v":310},{"t":26.8,"v":339},{"t":27,"v":322},{"t":27.2,"v":344},{"t":27.4,"v":300},{"t":27.6,"v":333},{"t":27.8,"v":352},{"t":28,"v":317},{"t":28.2,"v":290},{"t":28.4,"v":341},{"t":28.6,"v":326},{"t":28.8,"v":275},{"t":29,"v":347},{"t":29.2,"v":311},{"t":29.4,"v":335},{"t":29.6,"v":262},{"t":29.8,"v":323},{"t":30,"v":355},{"t":30.2,"v":296},{"t":30.4,"v":338},{"t":30.6,"v":280},{"t":30.8,"v":318},{"t":31,"v":258},{"t":31.2,"v":343},{"t":31.4,"v":305},{"t":31.6,"v":330},{"t":31.8,"v":270},{"t":32,"v":352},{"t":32.2,"v":288},{"t":32.4,"v":324},{"t":32.6,"v":250},{"t":32.8,"v":336},{"t":33,"v":300},{"t":33.2,"v":345},{"t":33.4,"v":265},{"t":33.6,"v":320},{"t":33.8,"v":282},{"t":34,"v":340},{"t":34.2,"v":258},{"t":34.4,"v":315},{"t":34.6,"v":350},{"t":20.1,"v":333},{"t":20.5,"v":318},{"t":20.9,"v":344},{"t":21.3,"v":326},{"t":21.7,"v":338},{"t":22.1,"v":347},{"t":22.5,"v":324},{"t":22.9,"v":340},{"t":23.3,"v":334},{"t":23.7,"v":349},{"t":24.1,"v":328},{"t":24.5,"v":344},{"t":24.9,"v":320},{"t":25.3,"v":338},{"t":25.7,"v":346},{"t":26.1,"v":315},{"t":26.5,"v":330},{"t":26.9,"v":352},{"t":27.3,"v":327},{"t":27.7,"v":308},{"t":28.1,"v":346},{"t":28.5,"v":300},{"t":28.9,"v":330},{"t":29.3,"v":284},{"t":29.7,"v":342},{"t":30.1,"v":312},{"t":30.5,"v":268},{"t":30.9,"v":334},{"t":31.3,"v":290},{"t":31.7,"v":356},{"t":32.1,"v":276},{"t":32.5,"v":312},{"t":32.9,"v":262},{"t":33.3,"v":330},{"t":33.7,"v":295},{"t":34.1,"v":347},{"t":34.5,"v":272},{"t":34.3,"v":290},{"t":33.9,"v":308},{"t":31.1,"v":320},{"t":29.1,"v":316},{"t":27.1,"v":340},{"t":25.1,"v":331},{"t":35.1,"v":268},{"t":35.9,"v":281},{"t":36.7,"v":266},{"t":37.7,"v":283},{"t":38.7,"v":270},{"t":39.7,"v":286},{"t":40.7,"v":273},{"t":41.7,"v":288},{"t":42.7,"v":279},{"t":43.7,"v":292},{"t":44.7,"v":284},{"t":45.7,"v":296},{"t":36.2,"v":262},{"t":38.2,"v":283},{"t":35.5,"v":288}],
"eph": [{"t":0,"r":"2.76","p":"314"},{"t":15,"r":"2.21","p":"328"},{"t":30,"r":"1.68","p":"349"},{"t":45,"r":"1.32","p":"25"},{"t":60,"r":"1.32","p":"76"}]
},
"vconcat": [
{
 "width": 421, "height": 106.4,
 "resolve": {"axis": {"y": "independent"}},
 "layer": [
  {"data": {"name": "np"}, "mark": {"type": "line", "color": "#111", "strokeWidth": 0.9},
   "encoding": {"x": {"field": "t", "type": "quantitative", "scale": {"domain": [0, 60], "nice": false, "zero": false}, "axis": null},
    "y": {"field": "v", "type": "quantitative", "scale": {"domain": [0, 10], "nice": false, "zero": false}, "axis": {"orient": "left", "title": null, "values": [0, 2.5, 5, 7.5, 10], "labelExpr": "datum.value % 5 === 0 ? datum.label : ''"}}}},
  {"data": {"values": [{}]}, "mark": {"type": "text", "text": "n", "font": "Liberation Sans", "fontWeight": "bold", "fontSize": 42, "align": "left", "baseline": "alphabetic", "color": "#111"},
   "encoding": {"x": {"datum": -22.45, "type": "quantitative", "scale": {"domain": [0, 60], "nice": false, "zero": false}, "axis": null},
    "y": {"datum": 6.33, "type": "quantitative", "scale": {"domain": [0, 10], "nice": false, "zero": false}, "axis": {"orient": "right", "title": null, "labels": false, "values": [0, 2.5, 5, 7.5, 10]}}}},
  {"data": {"values": [{}]}, "mark": {"type": "text", "text": "p", "font": "Liberation Sans", "fontWeight": "bold", "fontSize": 22, "align": "left", "baseline": "alphabetic", "color": "#111"},
   "encoding": {"x": {"datum": -18.6, "type": "quantitative", "axis": null}, "y": {"datum": 6.2, "type": "quantitative", "axis": null}}},
  {"data": {"values": [{}]}, "mark": {"type": "text", "text": "(cm⁻³)", "font": "DejaVu Serif", "fontSize": 22, "align": "left", "baseline": "middle", "color": "#111"},
   "encoding": {"x": {"datum": -22.6, "type": "quantitative", "axis": null}, "y": {"datum": 3.89, "type": "quantitative", "axis": null}}},
  {"data": {"values": [{}]}, "mark": {"type": "text", "text": "Protons VS", "font": "Liberation Sans", "fontWeight": "bold", "fontSize": 22, "align": "left", "baseline": "alphabetic", "color": "#111"},
   "encoding": {"x": {"datum": 1.64, "type": "quantitative", "axis": null}, "y": {"datum": 7.37, "type": "quantitative", "axis": null}}},
  {"data": {"values": [{}]}, "mark": {"type": "text", "text": "BS", "font": "Liberation Sans", "fontWeight": "bold", "fontSize": 26, "align": "center", "baseline": "alphabetic", "color": "#111"},
   "encoding": {"x": {"datum": 34.85, "type": "quantitative", "axis": null}, "y": {"datum": 10.56, "type": "quantitative", "axis": null}}},
  {"data": {"values": [{}]}, "mark": {"type": "text", "text": "PP", "font": "Liberation Sans", "fontWeight": "bold", "fontSize": 26, "align": "center", "baseline": "alphabetic", "color": "#e3242b"},
   "encoding": {"x": {"datum": 47.4, "type": "quantitative", "axis": null}, "y": {"datum": 10.56, "type": "quantitative", "axis": null}}},
  {"data": {"values": [{}]}, "mark": {"type": "text", "text": "(", "font": "Liberation Sans", "fontWeight": "bold", "fontSize": 23, "align": "left", "baseline": "alphabetic", "color": "#111"},
   "encoding": {"x": {"datum": -24.3, "type": "quantitative", "axis": null}, "y": {"datum": 12.35, "type": "quantitative", "axis": null}}},
  {"data": {"values": [{}]}, "mark": {"type": "text", "text": "d'après Sauer et al.", "font": "Liberation Sans", "fontWeight": "bold", "fontStyle": "italic", "fontSize": 23, "align": "left", "baseline": "alphabetic", "color": "#111"},
   "encoding": {"x": {"datum": -23.15, "type": "quantitative", "axis": null}, "y": {"datum": 12.35, "type": "quantitative", "axis": null}}},
  {"data": {"values": [{}]}, "mark": {"type": "text", "text": ", 1992)", "font": "Liberation Sans", "fontWeight": "bold", "fontSize": 23, "align": "left", "baseline": "alphabetic", "color": "#111"},
   "encoding": {"x": {"datum": 6.6, "type": "quantitative", "axis": null}, "y": {"datum": 12.35, "type": "quantitative", "axis": null}}},
  {"data": {"values": [{}]}, "mark": {"type": "rule", "color": "#111", "strokeWidth": 1.2, "strokeDash": [10, 12]},
   "encoding": {"x": {"datum": 34.7, "type": "quantitative", "axis": null}}},
  {"data": {"values": [{}]}, "mark": {"type": "rule", "color": "#e3242b", "strokeWidth": 2.6, "strokeDash": [20, 9]},
   "encoding": {"x": {"datum": 46.4, "type": "quantitative", "axis": null}}},
  {"data": {"values": [{}]}, "mark": {"type": "rule", "color": "#e3242b", "strokeWidth": 2.6, "strokeDash": [20, 9]},
   "encoding": {"x": {"datum": 47.65, "type": "quantitative", "axis": null}}}
 ]
},
{
 "width": 421, "height": 106.4,
 "resolve": {"axis": {"y": "independent"}},
 "layer": [
  {"data": {"name": "vpx"}, "mark": {"type": "line", "color": "#111", "strokeWidth": 0.9},
   "encoding": {"x": {"field": "t", "type": "quantitative", "scale": {"domain": [0, 60], "nice": false, "zero": false}, "axis": null},
    "y": {"field": "v", "type": "quantitative", "scale": {"domain": [0, 510], "nice": false, "zero": false}, "axis": {"orient": "right", "title": null, "values": [0, 100, 200, 300, 400], "labelExpr": "datum.value % 200 === 0 ? datum.label : ''", "labelPadding": 3}}}},
  {"data": {"values": [{}]}, "mark": {"type": "text", "text": "V", "font": "Liberation Sans", "fontWeight": "bold", "fontSize": 32, "align": "left", "baseline": "alphabetic", "color": "#111"},
   "encoding": {"x": {"datum": -22.6, "type": "quantitative", "scale": {"domain": [0, 60], "nice": false, "zero": false}, "axis": null},
    "y": {"datum": 272, "type": "quantitative", "scale": {"domain": [0, 510], "nice": false, "zero": false}, "axis": {"orient": "left", "title": null, "labels": false, "values": [100, 200, 300, 400]}}}},
  {"data": {"values": [{}]}, "mark": {"type": "text", "text": "px", "font": "Liberation Sans", "fontWeight": "bold", "fontSize": 25, "align": "left", "baseline": "alphabetic", "color": "#111"},
   "encoding": {"x": {"datum": -19.4, "type": "quantitative", "axis": null}, "y": {"datum": 272, "type": "quantitative", "axis": null}}},
  {"data": {"values": [{}]}, "mark": {"type": "text", "text": "(km/s)", "font": "DejaVu Serif", "fontSize": 22, "align": "left", "baseline": "middle", "color": "#111"},
   "encoding": {"x": {"datum": -22.6, "type": "quantitative", "axis": null}, "y": {"datum": 143, "type": "quantitative", "axis": null}}},
  {"data": {"values": [{}]}, "mark": {"type": "text", "text": "ASPERA", "font": "Liberation Sans", "fontWeight": "bold", "fontSize": 29, "align": "left", "baseline": "alphabetic", "color": "#111"},
   "encoding": {"x": {"datum": 1.5, "type": "quantitative", "axis": null}, "y": {"datum": 82, "type": "quantitative", "axis": null}}},
  {"data": {"values": [{}]}, "mark": {"type": "rule", "color": "#111", "strokeWidth": 1.2, "strokeDash": [10, 12]},
   "encoding": {"x": {"datum": 34.7, "type": "quantitative", "axis": null}}},
  {"data": {"values": [{}]}, "mark": {"type": "rule", "color": "#e3242b", "strokeWidth": 2.6, "strokeDash": [20, 9]},
   "encoding": {"x": {"datum": 46.4, "type": "quantitative", "axis": null}}},
  {"data": {"values": [{}]}, "mark": {"type": "rule", "color": "#e3242b", "strokeWidth": 2.6, "strokeDash": [20, 9]},
   "encoding": {"x": {"datum": 47.65, "type": "quantitative", "axis": null}}}
 ]
},
{
 "width": 421, "height": 106.4,
 "resolve": {"axis": {"y": "independent"}},
 "layer": [
  {"data": {"name": "vpy"}, "mark": {"type": "line", "color": "#111", "strokeWidth": 0.9},
   "encoding": {"x": {"field": "t", "type": "quantitative", "scale": {"domain": [0, 60], "nice": false, "zero": false}, "axis": null},
    "y": {"field": "v", "type": "quantitative", "scale": {"domain": [-300, 300], "nice": false, "zero": false}, "axis": {"orient": "left", "title": null, "values": [-300, -200, -100, 0, 100, 200, 300], "labelExpr": "datum.value % 300 === 0 ? datum.label : ''"}}}},
  {"data": {"values": [{}]}, "mark": {"type": "text", "text": "V", "font": "Liberation Sans", "fontWeight": "bold", "fontSize": 32, "align": "left", "baseline": "alphabetic", "color": "#111"},
   "encoding": {"x": {"datum": -22.6, "type": "quantitative", "scale": {"domain": [0, 60], "nice": false, "zero": false}, "axis": null},
    "y": {"datum": 0, "type": "quantitative", "scale": {"domain": [-300, 300], "nice": false, "zero": false}, "axis": {"orient": "right", "title": null, "labels": false, "values": [-300, -200, -100, 0, 100, 200, 300]}}}},
  {"data": {"values": [{}]}, "mark": {"type": "text", "text": "py", "font": "Liberation Sans", "fontWeight": "bold", "fontSize": 25, "align": "left", "baseline": "alphabetic", "color": "#111"},
   "encoding": {"x": {"datum": -19.4, "type": "quantitative", "axis": null}, "y": {"datum": 0, "type": "quantitative", "axis": null}}},
  {"data": {"values": [{}]}, "mark": {"type": "text", "text": "(km/s)", "font": "DejaVu Serif", "fontSize": 22, "align": "left", "baseline": "middle", "color": "#111"},
   "encoding": {"x": {"datum": -22.6, "type": "quantitative", "axis": null}, "y": {"datum": -124, "type": "quantitative", "axis": null}}},
  {"data": {"values": [{}]}, "mark": {"type": "rule", "color": "#111", "strokeWidth": 1.2, "strokeDash": [10, 12]},
   "encoding": {"x": {"datum": 34.7, "type": "quantitative", "axis": null}}},
  {"data": {"values": [{}]}, "mark": {"type": "rule", "color": "#e3242b", "strokeWidth": 2.6, "strokeDash": [20, 9]},
   "encoding": {"x": {"datum": 46.4, "type": "quantitative", "axis": null}}},
  {"data": {"values": [{}]}, "mark": {"type": "rule", "color": "#e3242b", "strokeWidth": 2.6, "strokeDash": [20, 9]},
   "encoding": {"x": {"datum": 47.65, "type": "quantitative", "axis": null}}}
 ]
},
{
 "width": 421, "height": 106.4,
 "resolve": {"axis": {"y": "independent"}},
 "layer": [
  {"data": {"name": "B"}, "mark": {"type": "line", "color": "#111", "strokeWidth": 0.9},
   "encoding": {"x": {"field": "t", "type": "quantitative", "scale": {"domain": [0, 60], "nice": false, "zero": false}, "axis": null},
    "y": {"field": "v", "type": "quantitative", "scale": {"domain": [0, 30], "nice": false, "zero": false}, "axis": {"orient": "right", "title": null, "values": [0, 10, 20, 30], "labelPadding": 3}}}},
  {"data": {"values": [{}]}, "mark": {"type": "text", "text": "B", "font": "DejaVu Serif", "fontSize": 34, "align": "left", "baseline": "alphabetic", "color": "#111"},
   "encoding": {"x": {"datum": -22.3, "type": "quantitative", "scale": {"domain": [0, 60], "nice": false, "zero": false}, "axis": null},
    "y": {"datum": 18.78, "type": "quantitative", "scale": {"domain": [0, 30], "nice": false, "zero": false}, "axis": {"orient": "left", "title": null, "labels": false, "values": [10, 20]}}}},
  {"data": {"values": [{}]}, "mark": {"type": "text", "text": "(nT)", "font": "DejaVu Serif", "fontSize": 22, "align": "left", "baseline": "middle", "color": "#111"},
   "encoding": {"x": {"datum": -22.6, "type": "quantitative", "axis": null}, "y": {"datum": 11.73, "type": "quantitative", "axis": null}}},
  {"data": {"values": [{}]}, "mark": {"type": "rule", "color": "#111", "strokeWidth": 1.2, "strokeDash": [10, 12]},
   "encoding": {"x": {"datum": 34.7, "type": "quantitative", "axis": null}}},
  {"data": {"values": [{}]}, "mark": {"type": "rule", "color": "#e3242b", "strokeWidth": 2.6, "strokeDash": [20, 9]},
   "encoding": {"x": {"datum": 46.4, "type": "quantitative", "axis": null}}},
  {"data": {"values": [{}]}, "mark": {"type": "rule", "color": "#e3242b", "strokeWidth": 2.6, "strokeDash": [20, 9]},
   "encoding": {"x": {"datum": 47.65, "type": "quantitative", "axis": null}}}
 ]
},
{
 "width": 421, "height": 106.4,
 "resolve": {"axis": {"y": "independent"}},
 "layer": [
  {"data": {"name": "th"}, "mark": {"type": "line", "color": "#111", "strokeWidth": 0.9},
   "encoding": {"x": {"field": "t", "type": "quantitative", "scale": {"domain": [0, 60], "nice": false, "zero": false}, "axis": null},
    "y": {"field": "v", "type": "quantitative", "scale": {"domain": [-90, 90], "nice": false, "zero": false}, "axis": {"orient": "left", "title": null, "values": [-90, -45, 0, 45, 90], "labelExpr": "datum.value % 90 === 0 ? datum.label : ''"}}}},
  {"data": {"values": [{}]}, "mark": {"type": "text", "text": "Θ", "font": "DejaVu Serif", "fontSize": 25, "align": "left", "baseline": "middle", "color": "#111"},
   "encoding": {"x": {"datum": -22.4, "type": "quantitative", "scale": {"domain": [0, 60], "nice": false, "zero": false}, "axis": null},
    "y": {"datum": 0, "type": "quantitative", "scale": {"domain": [-90, 90], "nice": false, "zero": false}, "axis": {"orient": "right", "title": null, "labels": false, "values": [-90, -45, 0, 45, 90]}}}},
  {"data": {"values": [{}]}, "mark": {"type": "rule", "color": "#111", "strokeWidth": 1.2, "strokeDash": [10, 12]},
   "encoding": {"x": {"datum": 34.7, "type": "quantitative", "axis": null}}},
  {"data": {"values": [{}]}, "mark": {"type": "rule", "color": "#e3242b", "strokeWidth": 2.6, "strokeDash": [20, 9]},
   "encoding": {"x": {"datum": 46.4, "type": "quantitative", "axis": null}}},
  {"data": {"values": [{}]}, "mark": {"type": "rule", "color": "#e3242b", "strokeWidth": 2.6, "strokeDash": [20, 9]},
   "encoding": {"x": {"datum": 47.65, "type": "quantitative", "axis": null}}}
 ]
},
{
 "width": 421, "height": 106.4,
 "resolve": {"axis": {"y": "independent", "x": "independent"}},
 "layer": [
  {"data": {"name": "eph"}, "mark": {"type": "text", "font": "DejaVu Serif", "fontSize": 15, "align": "center", "baseline": "middle", "color": "#111"},
   "encoding": {"x": {"field": "t", "type": "quantitative", "scale": {"domain": [0, 60], "nice": false, "zero": false},
     "axis": {"orient": "bottom", "title": null, "ticks": true, "labels": true, "values": [0, 15, 30, 45, 60], "labelExpr": "datum.value === 60 ? '0600' : '05' + (datum.value < 10 ? '0' : '') + datum.value", "labelFontSize": 22, "tickSize": 10, "labelPadding": 4, "labelFlush": false}},
    "y": {"datum": -176, "type": "quantitative", "scale": {"domain": [0, 360], "nice": false, "zero": false}, "axis": null}, "text": {"field": "r"}}},
  {"data": {"name": "phl"}, "mark": {"type": "line", "color": "#111", "strokeWidth": 1.0},
   "encoding": {"x": {"field": "t", "type": "quantitative", "axis": null},
    "y": {"field": "v", "type": "quantitative", "scale": {"domain": [0, 360], "nice": false, "zero": false}, "axis": {"orient": "right", "title": null, "values": [0, 90, 180, 270, 360], "labelExpr": "datum.value % 180 === 0 ? datum.label : ''", "labelPadding": 3}},
    "detail": {"field": "seg"}}},
  {"data": {"name": "php"}, "mark": {"type": "circle", "size": 3, "color": "#111", "opacity": 1},
   "encoding": {"x": {"field": "t", "type": "quantitative", "axis": null}, "y": {"field": "v", "type": "quantitative", "axis": null}}},
  {"data": {"values": [{}]}, "mark": {"type": "text", "text": "Φ", "font": "DejaVu Serif", "fontSize": 26, "align": "left", "baseline": "middle", "color": "#111"},
   "encoding": {"x": {"datum": -22.3, "type": "quantitative", "axis": null},
    "y": {"datum": 191, "type": "quantitative", "scale": {"domain": [0, 360], "nice": false, "zero": false}, "axis": {"orient": "left", "title": null, "labels": false, "values": [90, 180, 270]}}}},
  {"data": {"name": "eph"}, "mark": {"type": "text", "font": "DejaVu Serif", "fontSize": 15, "align": "center", "baseline": "middle", "color": "#111"},
   "encoding": {"x": {"field": "t", "type": "quantitative", "axis": null}, "y": {"datum": -264, "type": "quantitative", "axis": null}, "text": {"field": "p"}}},
  {"data": {"values": [{}]}, "mark": {"type": "text", "text": "r(Rₘ)", "font": "DejaVu Serif", "fontSize": 15, "align": "center", "baseline": "middle", "color": "#111"},
   "encoding": {"x": {"datum": -10.3, "type": "quantitative", "axis": null}, "y": {"datum": -176, "type": "quantitative", "axis": null}}},
  {"data": {"values": [{}]}, "mark": {"type": "text", "text": "φ", "font": "DejaVu Serif", "fontStyle": "italic", "fontSize": 19, "align": "center", "baseline": "middle", "color": "#111"},
   "encoding": {"x": {"datum": -10.8, "type": "quantitative", "axis": null}, "y": {"datum": -264, "type": "quantitative", "axis": null}}},
  {"data": {"values": [{}]}, "mark": {"type": "rule", "color": "#111", "strokeWidth": 1.2, "strokeDash": [10, 12]},
   "encoding": {"x": {"datum": 34.7, "type": "quantitative", "axis": null}, "y": {"datum": 360, "type": "quantitative", "axis": null}, "y2": {"datum": 30}}},
  {"data": {"values": [{}]}, "mark": {"type": "rule", "color": "#e3242b", "strokeWidth": 2.6, "strokeDash": [20, 9]},
   "encoding": {"x": {"datum": 46.4, "type": "quantitative", "axis": null}}},
  {"data": {"values": [{}]}, "mark": {"type": "rule", "color": "#e3242b", "strokeWidth": 2.6, "strokeDash": [20, 9]},
   "encoding": {"x": {"datum": 47.65, "type": "quantitative", "axis": null}}}
 ]
}
]
}
